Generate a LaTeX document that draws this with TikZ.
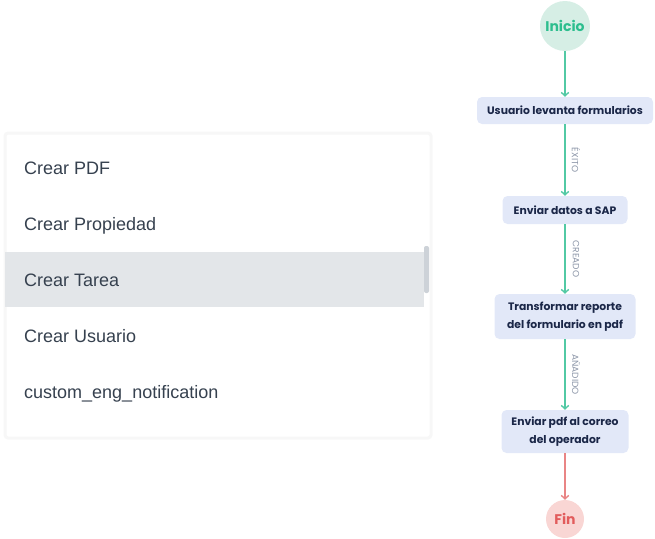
\documentclass[tikz,border=0pt]{standalone}
\usepackage{fontspec}
\setmainfont{Liberation Sans}
\newfontfamily\flowfont{Poppins}
\usetikzlibrary{arrows.meta,positioning}
\usepackage{xcolor}
\definecolor{menutext}{HTML}{36414F}
\definecolor{menuhl}{HTML}{E3E6E9}
\definecolor{scrollbar}{HTML}{CDD2D8}
\definecolor{boxfill}{HTML}{E2E8F8}
\definecolor{boxtext}{HTML}{1B2748}
\definecolor{okline}{HTML}{52C9A4}
\definecolor{startfill}{HTML}{D6EEE5}
\definecolor{starttext}{HTML}{2DBE8E}
\definecolor{endfill}{HTML}{F9D6D4}
\definecolor{endtext}{HTML}{E25C5C}
\definecolor{endline}{HTML}{E98585}
\definecolor{labeltext}{HTML}{8C96A8}

\begin{document}
\begin{tikzpicture}[x=1pt, y=-1pt,
    item/.style={anchor=base west, inner sep=0pt, text=menutext, font=\fontsize{18}{20}\selectfont},
    task/.style={fill=boxfill, rounded corners=5pt, align=center, inner sep=0pt, text=boxtext, font=\flowfont\bfseries\fontsize{10.8}{18}\selectfont},
    term/.style={circle, inner sep=0pt, font=\flowfont\bfseries\fontsize{14}{16}\selectfont},
    flow/.style={draw=okline, line width=1.4pt, -{Straight Barb[length=3.5pt,width=7.5pt]}},
    tag/.style={rotate=-90, inner sep=0pt, text=labeltext, font=\flowfont\fontsize{9}{10}\selectfont}
]
    \useasboundingbox (0,0) rectangle (655,538);

    % selector panel
    \draw[draw=black!3, line width=3pt, fill=white, rounded corners=3pt] (5,133) rectangle (431,438);
    \fill[menuhl] (5,252) rectangle (424,307);
    \fill[scrollbar, rounded corners=2pt] (424,246) rectangle (429,293);

    \node[item] (pdfitem) at (24,174) {Crear PDF};
    \node[item] (propitem) at (24,230) {Crear Propiedad};
    \node[item] (tareaitem) at (24,286) {Crear Tarea};
    \node[item] (usuarioitem) at (24,342) {Crear Usuario};
    \node[item] (notifitem) at (24,398) {custom\_eng\_notification};

    % flow
    \node[term, fill=startfill, text=starttext, minimum size=50pt] (inicio) at (565,26) {Inicio};
    \node[task, minimum width=176pt, minimum height=27pt] (usuario) at (565,110.5) {Usuario levanta formularios};
    \node[task, minimum width=125pt, minimum height=28pt] (sap) at (565,210) {Enviar datos a SAP};
    \node[task, minimum width=141pt, minimum height=45pt] (reporte) at (565,316.5) {Transformar reporte\\del formulario en pdf};
    \node[task, minimum width=127pt, minimum height=43pt] (correo) at (565,431.5) {Enviar pdf al correo\\del operador};
    \node[term, fill=endfill, text=endtext, minimum size=38pt] (fin) at (565,519) {Fin};

    \draw[flow] (inicio) -- (usuario);
    \draw[flow] (usuario) -- (sap) node[midway, xshift=11pt, tag] {ÉXITO};
    \draw[flow] (sap) -- (reporte) node[midway, xshift=11pt, tag] {CREADO};
    \draw[flow] (reporte) -- (correo) node[midway, xshift=11pt, tag] {AÑADIDO};
    \draw[flow, draw=endline] (correo) -- (fin);
\end{tikzpicture}
\end{document}
